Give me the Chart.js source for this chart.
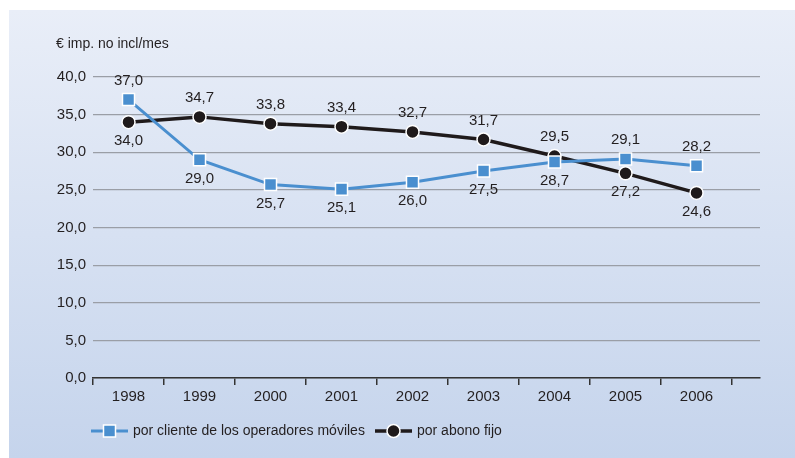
<!DOCTYPE html>
<html>
<head>
<meta charset="utf-8">
<script src="https://cdn.jsdelivr.net/npm/chart.js@4"></script>
<style>
  body { margin: 0; background: #fff; }
  #wrap { width: 795px; height: 458px; }
</style>
</head>
<body>
<div id="wrap"><canvas id="chart" width="795" height="458"></canvas></div>
<script>
const years = ["1998", "1999", "2000", "2001", "2002", "2003", "2004", "2005", "2006"];
const movil = [37.0, 29.0, 25.7, 25.1, 26.0, 27.5, 28.7, 29.1, 28.2];
const fijo = [34.0, 34.7, 33.8, 33.4, 32.7, 31.7, 29.5, 27.2, 24.6];
// where each value label sits: 1 = above the point, -1 = below
const movilLabelSide = [1, -1, -1, -1, -1, -1, -1, 1, 1];
const fijoLabelSide = [-1, 1, 1, 1, 1, 1, 1, -1, -1];
const yTicks = [0, 5, 10, 15, 20, 25, 30, 35, 40];

const FONT = "'Liberation Sans', Arial, sans-serif";
const TEXT = "#231f20";
const BLUE = "#4a8fcf";
const BLACK = "#1f1a1b";

const fmt = v => v.toFixed(1).replace(".", ",");

const background = {
    id: "background",
    beforeDraw(chart) {
        const ctx = chart.ctx;
        const g = ctx.createLinearGradient(0, 10, 0, 458);
        g.addColorStop(0, "#e9eef8");
        g.addColorStop(1, "#c5d4ec");
        ctx.save();
        ctx.fillStyle = "#fff";
        ctx.fillRect(0, 0, chart.width, chart.height);
        ctx.fillStyle = g;
        ctx.fillRect(9, 10, chart.width - 9, chart.height - 10);
        ctx.restore();
    }
};

const valueLabels = {
    id: "valueLabels",
    afterDatasetsDraw(chart) {
        const ctx = chart.ctx;
        const sides = [movilLabelSide, fijoLabelSide];
        ctx.save();
        ctx.font = "15px " + FONT;
        ctx.fillStyle = TEXT;
        ctx.textAlign = "center";
        ctx.textBaseline = "middle";
        chart.data.datasets.forEach((ds, d) => {
            chart.getDatasetMeta(d).data.forEach((pt, i) => {
                ctx.fillText(fmt(ds.data[i].y), pt.x, pt.y - sides[d][i] * 19);
            });
        });
        ctx.restore();
    }
};

const extras = {
    id: "extras",
    afterDraw(chart) {
        const ctx = chart.ctx;
        const area = chart.chartArea;
        ctx.save();
        ctx.font = "14px " + FONT;
        ctx.fillStyle = TEXT;
        ctx.textBaseline = "middle";
        ctx.textAlign = "left";
        ctx.fillText("€ imp. no incl/mes", area.left - 37, 44);

        // legend: line + marker + text
        const items = [
            { x: 91, ds: chart.data.datasets[0], square: true },
            { x: 375, ds: chart.data.datasets[1], square: false }
        ];
        const y = 431;
        items.forEach(it => {
            ctx.strokeStyle = it.ds.borderColor;
            ctx.lineWidth = it.ds.borderWidth;
            ctx.beginPath();
            ctx.moveTo(it.x, y);
            ctx.lineTo(it.x + 37, y);
            ctx.stroke();
            const cx = it.x + 18.5;
            ctx.fillStyle = it.ds.pointBackgroundColor;
            ctx.strokeStyle = "#fff";
            ctx.lineWidth = 1.5;
            ctx.beginPath();
            if (it.square) ctx.rect(cx - 6, y - 6, 12, 12);
            else ctx.arc(cx, y, 6.5, 0, Math.PI * 2);
            ctx.fill();
            ctx.stroke();
            ctx.fillStyle = TEXT;
            ctx.fillText(it.ds.label, it.x + 42, y);
        });
        ctx.restore();
    }
};

const toPoints = arr => arr.map((v, i) => ({ x: i, y: v }));

new Chart(document.getElementById("chart"), {
    type: "line",
    data: {
        datasets: [{
            label: "por cliente de los operadores móviles",
            data: toPoints(movil),
            borderColor: BLUE,
            borderWidth: 3,
            pointStyle: "rect",
            pointRadius: 8.5,
            pointBackgroundColor: BLUE,
            pointBorderColor: "#fff",
            pointBorderWidth: 1.5,
            tension: 0
        }, {
            label: "por abono fijo",
            data: toPoints(fijo),
            borderColor: BLACK,
            borderWidth: 3.5,
            pointStyle: "circle",
            pointRadius: 6.5,
            pointBackgroundColor: BLACK,
            pointBorderColor: "#fff",
            pointBorderWidth: 1.5,
            tension: 0
        }]
    },
    options: {
        responsive: false,
        animation: false,
        layout: { padding: { left: 9, right: 35, top: 77, bottom: 0 } },
        plugins: {
            legend: { display: false },
            tooltip: { enabled: false }
        },
        scales: {
            x: {
                type: "linear",
                min: -0.5,
                max: 8.894,
                afterBuildTicks(axis) {
                    const t = [];
                    for (let v = -0.5; v <= 8.5; v += 0.5) t.push({ value: v });
                    axis.ticks = t;
                },
                afterFit(axis) { axis.height = 80; },
                grid: {
                    drawOnChartArea: false,
                    drawTicks: true,
                    tickLength: 7,
                    lineWidth: 1.5,
                    color: c => (c.tick && Number.isInteger(c.tick.value)) ? "rgba(0,0,0,0)" : "#333"
                },
                border: { display: true, color: "#333", width: 1.5 },
                ticks: {
                    autoSkip: false,
                    maxRotation: 0,
                    padding: 3,
                    color: TEXT,
                    font: { family: FONT, size: 15 },
                    callback: v => Number.isInteger(v) ? years[v] : ""
                }
            },
            y: {
                min: 0,
                max: 40,
                afterBuildTicks(axis) { axis.ticks = yTicks.map(v => ({ value: v })); },
                afterFit(axis) { axis.width = 84; },
                grid: { color: "#9a9ea6", lineWidth: 1.2, drawTicks: false },
                border: { display: false },
                ticks: {
                    padding: 7,
                    color: TEXT,
                    font: { family: FONT, size: 15 },
                    callback: v => fmt(v)
                }
            }
        }
    },
    plugins: [background, valueLabels, extras]
});
</script>
</body>
</html>
